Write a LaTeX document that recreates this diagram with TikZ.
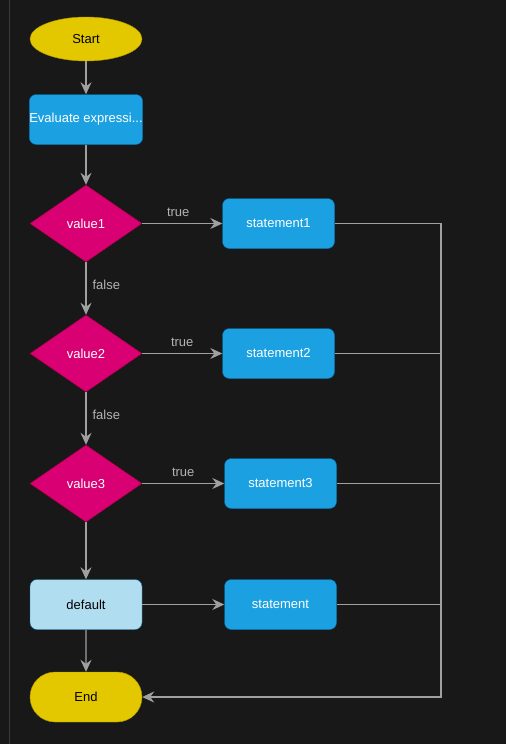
\documentclass[tikz,border=0pt]{standalone}
\usepackage{fontspec}
\setmainfont{Liberation Sans}
\usepackage{xcolor}
\usetikzlibrary{shapes.geometric, shapes.misc, arrows.meta}

\definecolor{bgdark}{HTML}{181818}
\definecolor{edgeline}{HTML}{3A3A3A}
\definecolor{linkgray}{HTML}{A0A0A0}
\definecolor{labelgray}{HTML}{B3B3B3}
\definecolor{termyellow}{HTML}{E3C800}
\definecolor{termyellowline}{HTML}{B09500}
\definecolor{procblue}{HTML}{1BA1E2}
\definecolor{procblueline}{HTML}{006EAF}
\definecolor{decmagenta}{HTML}{D80073}
\definecolor{decmagentaline}{HTML}{A50040}
\definecolor{deflight}{HTML}{B1DDF0}
\definecolor{deflightline}{HTML}{10739E}

\begin{document}
\begin{tikzpicture}[x=1pt, y=-1pt, font=\fontsize{13}{15}\selectfont,
        terminal/.style={
                ellipse,
                minimum width=112pt,
                minimum height=44pt,
                inner sep=0pt,
                fill=termyellow,
                draw=termyellowline,
                line width=0.4pt,
        },
        stadium/.style={
                rounded rectangle,
                minimum width=112pt,
                minimum height=50pt,
                inner sep=0pt,
                fill=termyellow,
                draw=termyellowline,
                line width=0.4pt,
        },
        process/.style={
                rectangle,
                rounded corners=7pt,
                minimum width=112pt,
                minimum height=50pt,
                inner sep=0pt,
                fill=procblue,
                draw=procblueline,
                line width=0.4pt,
                text=white,
        },
        decision/.style={
                diamond,
                aspect=1.45,
                minimum width=112pt,
                minimum height=77pt,
                inner sep=0pt,
                fill=decmagenta,
                draw=decmagentaline,
                line width=0.4pt,
                text=white,
        },
        fallback/.style={
                process,
                fill=deflight,
                draw=deflightline,
                text=black,
        },
        link/.style={
                draw=linkgray,
                line width=1.2pt,
                -{Stealth[length=12pt, width=11pt, inset=4pt]},
        },
        plainlink/.style={
                draw=linkgray,
                line width=1.2pt,
        },
        branch/.style={
                text=labelgray,
                inner sep=1pt,
        }]
            % canvas
            \fill[bgdark] (0, 0) rectangle (506, 744);
            \useasboundingbox (0, 0) rectangle (506, 744);
            \draw[edgeline, line width=1pt] (9, 0) -- (9, 744);

            % main column
            \node[terminal] (start) at (86, 39) {Start};
            \node[process] (eval) at (86, 119.5) {Evaluate expressi...};
            \node[decision] (val1) at (86, 223.5) {value1};
            \node[decision] (val2) at (86, 353.5) {value2};
            \node[decision] (val3) at (86, 483.5) {value3};
            \node[fallback] (dflt) at (86, 604.5) {default};
            \node[stadium] (finish) at (86, 697) {End};

            % statements
            \node[process] (stmt1) at (278.5, 223.5) {statement1};
            \node[process] (stmt2) at (278.5, 353.5) {statement2};
            \node[process] (stmt3) at (280.5, 483.5) {statement3};
            \node[process] (stmt) at (280.5, 604.5) {statement};
            \coordinate (rail) at (441, 697);

            % flow
            \draw[link] (start) -- (eval);
            \draw[link] (eval) -- (val1);
            \draw[link] (val1) -- node[branch, pos=0.43, right=5pt] {false} (val2);
            \draw[link] (val2) -- node[branch, pos=0.43, right=5pt] {false} (val3);
            \draw[link] (val3) -- (dflt);
            \draw[link] (dflt) -- (finish);

            \draw[link] (val1) -- node[branch, pos=0.45, above=5pt] {true} (stmt1);
            \draw[link] (val2) -- node[branch, pos=0.5, above=5pt] {true} (stmt2);
            \draw[link] (val3) -- node[branch, pos=0.5, above=5pt] {true} (stmt3);
            \draw[link] (dflt) -- (stmt);

            % back to end
            \draw[link] (stmt1.east) -| (rail) -- (finish.east);
            \draw[plainlink] (stmt2.east) -- (stmt2.east -| rail);
            \draw[plainlink] (stmt3.east) -- (stmt3.east -| rail);
            \draw[plainlink] (stmt.east) -- (stmt.east -| rail);
        \end{tikzpicture}
\end{document}
